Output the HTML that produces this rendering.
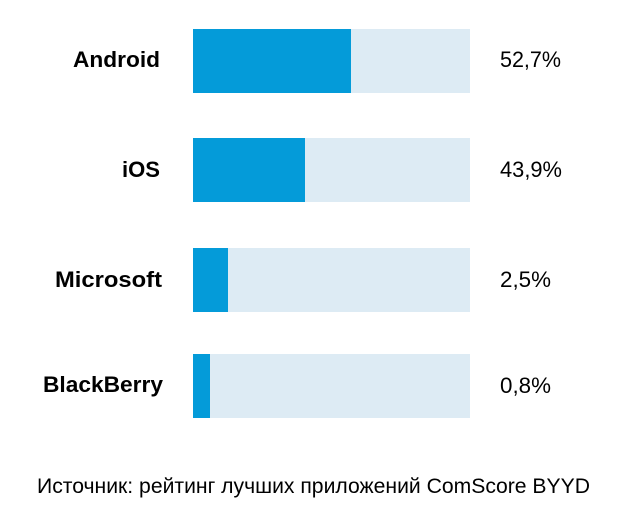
<!DOCTYPE html>
<html>
<head>
<meta charset="utf-8">
<style>
html,body{margin:0;padding:0;background:#fff;}
svg{display:block;}
.l{font-family:"Liberation Sans",Arial,sans-serif;font-weight:bold;font-size:22.5px;fill:#000;}
.p{font-family:"Liberation Sans",Arial,sans-serif;font-size:22.5px;fill:#000;}
.s{font-family:"Liberation Sans","Noto Sans CJK SC",sans-serif;font-size:21.5px;fill:#000;}
</style>
</head>
<body>
<svg width="630" height="532" viewBox="0 0 630 532" xmlns="http://www.w3.org/2000/svg">
<rect x="0" y="0" width="630" height="532" fill="#fff"/>
<!-- bars -->
<rect x="193" y="29" width="277" height="64" fill="#ddebf4"/>
<rect x="193" y="29" width="158" height="64" fill="#049bd9"/>
<rect x="193" y="138" width="277" height="64" fill="#ddebf4"/>
<rect x="193" y="138" width="112" height="64" fill="#049bd9"/>
<rect x="193" y="248" width="277" height="64" fill="#ddebf4"/>
<rect x="193" y="248" width="35" height="64" fill="#049bd9"/>
<rect x="193" y="354" width="277" height="64" fill="#ddebf4"/>
<rect x="193" y="354" width="17" height="64" fill="#049bd9"/>
<!-- labels -->
<text class="l" x="73" y="67" textLength="87" lengthAdjust="spacingAndGlyphs">Android</text>
<text class="l" x="122" y="177" textLength="38" lengthAdjust="spacingAndGlyphs">iOS</text>
<text class="l" x="55" y="287" textLength="107" lengthAdjust="spacingAndGlyphs">Microsoft</text>
<text class="l" x="43" y="392" textLength="120" lengthAdjust="spacingAndGlyphs">BlackBerry</text>
<!-- values -->
<text class="p" x="500" y="67" textLength="61" lengthAdjust="spacingAndGlyphs">52,7%</text>
<text class="p" x="500" y="177" textLength="62" lengthAdjust="spacingAndGlyphs">43,9%</text>
<text class="p" x="500" y="287" textLength="51" lengthAdjust="spacingAndGlyphs">2,5%</text>
<text class="p" x="500" y="393" textLength="51" lengthAdjust="spacingAndGlyphs">0,8%</text>
<!-- source -->
<text class="s" x="37" y="493" textLength="553" lengthAdjust="spacingAndGlyphs">Источник: рейтинг лучших приложений ComScore BYYD</text>
</svg>
</body>
</html>
